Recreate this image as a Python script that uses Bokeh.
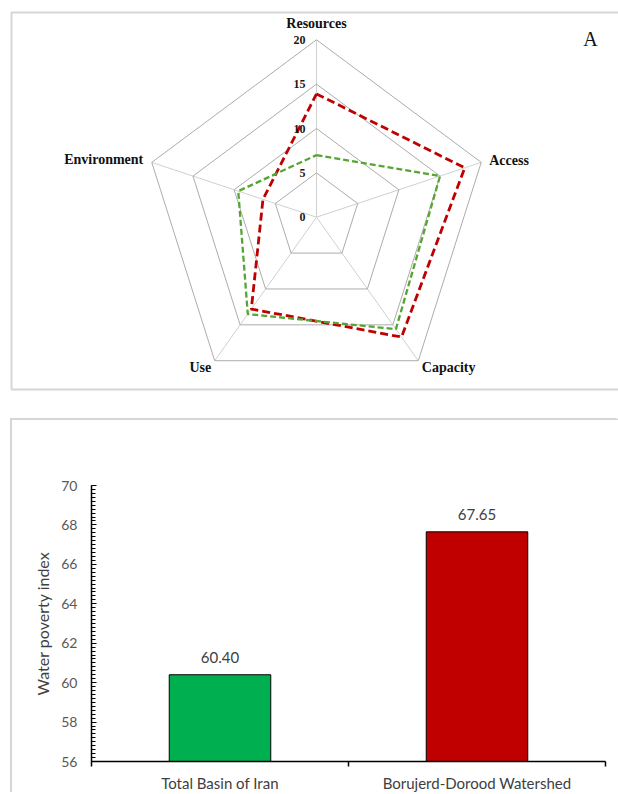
import math
from bokeh.plotting import figure
from bokeh.models import Range1d, FixedTicker, SingleIntervalTicker, Label
from bokeh.core.properties import value
from bokeh.embed import file_html
from bokeh.resources import INLINE

# ---------------- data ----------------
radar_categories = ["Resources", "Access", "Capacity", "Use", "Environment"]
borujerd_scores = [13.9, 18.0, 16.7, 12.8, 6.5]
iran_scores = [7.0, 15.0, 15.6, 13.5, 9.5]
radar_ticks = [0, 5, 10, 15, 20]

bar_categories = ["Total Basin of Iran", "Borujerd-Dorood Watershed"]
wpi_values = [60.40, 67.65]
bar_y_min, bar_y_max, bar_ticks_step = 56, 70, 2

# ---------------- layout constants (page px, page origin top-left) ----------------
W1 = 618
H1 = 420
SX, SY = 8.66, 8.87          # px per radar unit
CX, CY = 316.0, 216.7         # radar centre
RMAX = radar_ticks[-1]

def dx(px):
    return (px - CX) / SX

def dy(py):
    return (CY - py) / SY

angles = [math.radians(90 - 72 * i) for i in range(len(radar_categories))]

def polar(vals):
    xs = [v * math.cos(a) for v, a in zip(vals, angles)]
    ys = [v * math.sin(a) for v, a in zip(vals, angles)]
    return xs + xs[:1], ys + ys[:1]

# ---------------- radar figure (panel A) ----------------
p1 = figure(width=W1, height=H1, output_backend="svg", toolbar_location=None,
            x_range=Range1d(dx(0), dx(W1)), y_range=Range1d(dy(H1), dy(0)),
            x_axis_location=None, y_axis_location=None, min_border=0, title=None)
p1.outline_line_color = None
p1.grid.visible = False
p1.background_fill_color = "white"
p1.border_fill_color = "white"

BORDER = "#d6d6d6"
# panel A border
p1.line(x=[dx(W1 + 20), dx(11), dx(11), dx(W1 + 20)], y=[dy(12), dy(12), dy(389), dy(389)],
        line_color=BORDER, line_width=2)
# top edge of panel B border
p1.line(x=[dx(11), dx(11), dx(W1 + 20)], y=[dy(H1 + 5), dy(H1 - 1), dy(H1 - 1)],
        line_color=BORDER, line_width=2)

# spokes
p1.segment(x0=[0] * 5, y0=[0] * 5,
           x1=[RMAX * math.cos(a) for a in angles], y1=[RMAX * math.sin(a) for a in angles],
           line_color="#d0d0d0", line_width=1)
# rings
ring_xs, ring_ys = [], []
for t in radar_ticks[1:]:
    rx, ry = polar([t] * 5)
    ring_xs.append(rx)
    ring_ys.append(ry)
p1.multi_line(xs=ring_xs, ys=ring_ys, line_color="#acacac", line_width=1)

# series
bx, by = polar(borujerd_scores)
p1.line(bx, by, line_color="#c00000", line_width=2.8, line_dash="8 4")
ix, iy = polar(iran_scores)
p1.line(ix, iy, line_color="#55a532", line_width=2.3, line_dash="6 3")

# ring tick labels
p1.text(x=[0] * len(radar_ticks), y=radar_ticks, text=[str(t) for t in radar_ticks],
        text_font=value("Liberation Serif"), text_font_style="bold", text_font_size="12px",
        text_color="#1a1a1a", text_align="right", text_baseline="middle", x_offset=-11)

# category labels
cat_style = [("center", 0, -16.5), ("left", 8, -1.5), ("left", 3.5, 7), ("right", -3.5, 7), ("right", -8.5, -2.5)]
for name, a, (al, xo, yo) in zip(radar_categories, angles, cat_style):
    p1.text(x=[RMAX * math.cos(a)], y=[RMAX * math.sin(a)], text=[name],
            text_font=value("Liberation Serif"), text_font_style="bold", text_font_size="14px",
            text_color="#111111", text_align=al, text_baseline="middle", x_offset=xo, y_offset=yo)

p1.text(x=[dx(590)], y=[dy(38)], text=["A"], text_font=value("Liberation Serif"),
        text_font_size="20px", text_color="#111111", text_align="center", text_baseline="middle")

# ---------------- bar figure (panel B) ----------------
W2 = 606
H2 = 374
positions = [i + 0.5 for i in range(len(bar_categories))]
p2 = figure(width=W2, height=H2, output_backend="svg", toolbar_location=None, title=None,
            x_range=Range1d(0, len(bar_categories)), y_range=Range1d(bar_y_min, bar_y_max),
            min_border_left=79, min_border_right=13, min_border_top=65, min_border_bottom=32)
p2.styles = {"margin-left": "12px", "box-shadow": "-2px -2px 0 0 " + BORDER}
p2.outline_line_color = None
p2.grid.grid_line_color = None
p2.background_fill_color = "white"
p2.border_fill_color = "white"

p2.vbar(x=positions, top=wpi_values, bottom=bar_y_min, width=0.395,
        fill_color=["#00b050", "#c00000"], line_color="black", line_width=1)
p2.text(x=positions, y=wpi_values, text=[f"{v:.2f}" for v in wpi_values],
        text_font=value("Lato"), text_font_size="15px", text_color="#404040",
        text_align="center", text_baseline="middle", y_offset=-17)

xa = p2.xaxis[0]
xa.ticker = FixedTicker(ticks=positions, minor_ticks=list(range(len(bar_categories) + 1)))
xa.major_label_overrides = {pos: cat for pos, cat in zip(positions, bar_categories)}
xa.major_tick_in = 0
xa.major_tick_out = 0
xa.minor_tick_in = 0
xa.minor_tick_out = 5
xa.minor_tick_line_color = "black"
xa.minor_tick_line_width = 1.5
xa.axis_line_color = "black"
xa.axis_line_width = 1.5
xa.major_label_standoff = 7
xa.major_label_text_font = "Lato"
xa.major_label_text_font_size = "15px"
xa.major_label_text_color = "#404040"

ya = p2.yaxis[0]
ya.ticker = SingleIntervalTicker(interval=bar_ticks_step, num_minor_ticks=10)
ya.major_tick_in = 5
ya.major_tick_out = 0
ya.minor_tick_in = 4
ya.minor_tick_out = 0
ya.major_tick_line_color = "black"
ya.minor_tick_line_color = "black"
ya.major_tick_line_width = 1.2
ya.minor_tick_line_width = 1.2
ya.axis_line_color = "black"
ya.axis_line_width = 1.5
ya.major_label_standoff = 14
ya.major_label_text_font = "Lato"
ya.major_label_text_font_size = "14px"
ya.major_label_text_color = "#595959"
ya.axis_label = "Water poverty index"
ya.axis_label_text_font = "Lato"
ya.axis_label_text_font_style = "normal"
ya.axis_label_text_font_size = "16px"
ya.axis_label_text_color = "#404040"
ya.axis_label_standoff = 6

# panel letter (frame-relative screen units: frame left = page 91, frame bottom = page 762)
p2.add_layout(Label(x=589 - 91, y=762 - 443, x_units="screen", y_units="screen", text="B",
                    text_font="Liberation Serif", text_font_size="22px", text_color="#111111",
                    text_align="center", text_baseline="middle"))

open("out.html", "w").write(file_html([p1, p2], INLINE))
